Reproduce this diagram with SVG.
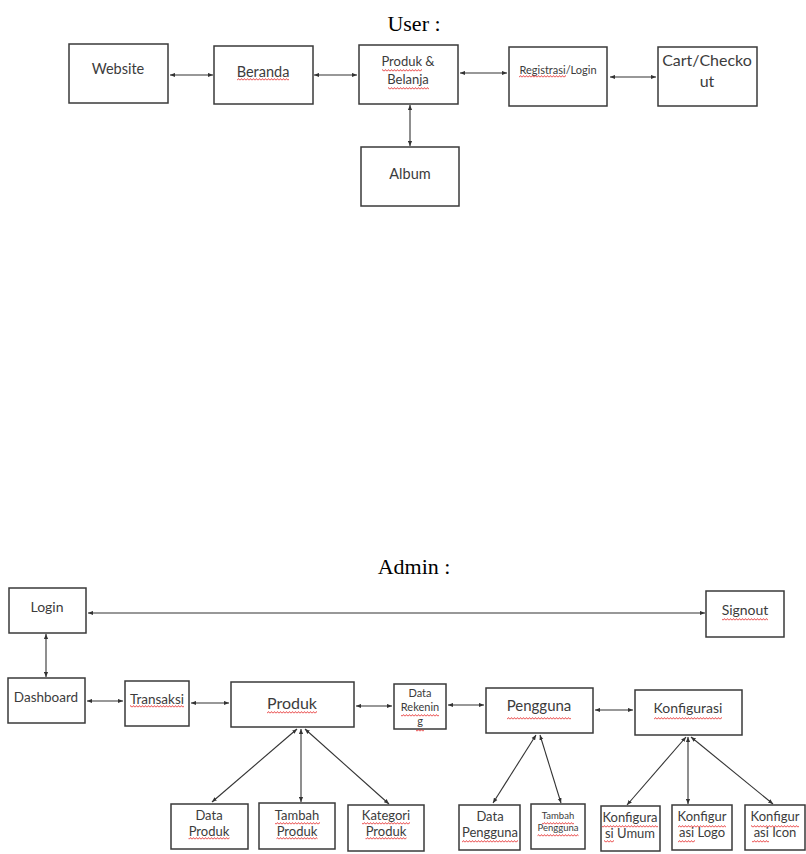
<svg xmlns="http://www.w3.org/2000/svg" width="806" height="854" viewBox="0 0 806 854">
<style>
.box{fill:#fff;stroke:#3a3a3a;stroke-width:1.5}
.t{font-family:Lato,"Open Sans",sans-serif;fill:#3c3c3c;text-anchor:middle}
.title{font-family:"Liberation Serif","Times New Roman",serif;font-size:22px;fill:#000;text-anchor:middle}
.c line{stroke:#333;stroke-width:1.1;marker-start:url(#ah);marker-end:url(#ah)}
.sq{fill:url(#wave)}
</style>
<defs>
<marker id="ah" viewBox="0 0 6 6" refX="6" refY="3" markerWidth="5" markerHeight="5" markerUnits="userSpaceOnUse" orient="auto-start-reverse"><path d="M0,0.5 L6,3 L0,5.5z" fill="#333"/></marker>
<pattern id="wave" width="3" height="3" patternUnits="userSpaceOnUse"><path d="M0,2.4 L1.5,0.6 L3,2.4" fill="none" stroke="#e31b1b" stroke-width="0.8"/></pattern>
</defs>
<rect width="806" height="854" fill="#fff"/>
<text class="title" x="414" y="31">User :</text>
<text class="title" x="414" y="574">Admin :</text>

<g id="website"><rect class="box" x="69" y="44" width="99" height="59"/><text class="t" x="118" y="74" font-size="14.5">Website</text></g>
<g id="beranda"><rect class="box" x="214" y="46" width="99" height="58"/><text class="t" x="263" y="77" font-size="14.5">Beranda</text><rect class="sq" x="237" y="78" width="52" height="3"/></g>
<g id="produk-belanja"><rect class="box" x="359" y="45" width="99" height="59"/><text class="t" x="408" y="66" font-size="13">Produk &amp;</text><text class="t" x="408" y="84" font-size="13">Belanja</text><rect class="sq" x="382" y="69" width="40" height="3"/><rect class="sq" x="388" y="87" width="41" height="3"/></g>
<g id="registrasi"><rect class="box" x="509" y="47" width="98" height="59"/><text class="t" x="558" y="74" font-size="11">Registrasi/Login</text><rect class="sq" x="519" y="75" width="47" height="3"/></g>
<g id="cart"><rect class="box" x="658" y="47" width="99" height="59"/><text class="t" x="707" y="66" font-size="16">Cart/Checko</text><text class="t" x="707" y="87" font-size="16">ut</text></g>
<g id="album"><rect class="box" x="361" y="147" width="98" height="59"/><text class="t" x="410" y="179" font-size="14.5">Album</text></g>

<g id="login"><rect class="box" x="9" y="588" width="77" height="45"/><text class="t" x="47" y="612" font-size="14">Login</text></g>
<g id="signout"><rect class="box" x="706" y="591" width="78" height="46"/><text class="t" x="745" y="615" font-size="14">Signout</text><rect class="sq" x="722" y="618" width="46" height="3"/></g>
<g id="dashboard"><rect class="box" x="8" y="678" width="77" height="45"/><text class="t" x="46" y="702" font-size="13.5">Dashboard</text></g>
<g id="transaksi"><rect class="box" x="125" y="681" width="64" height="45"/><text class="t" x="157" y="704" font-size="13.5">Transaksi</text><rect class="sq" x="130" y="705" width="54" height="3"/></g>
<g id="produk"><rect class="box" x="231" y="682" width="123" height="45"/><text class="t" x="292" y="709" font-size="16">Produk</text><rect class="sq" x="267" y="711" width="50" height="3"/></g>
<g id="data-rekening"><rect class="box" x="394" y="684" width="52" height="45"/><text class="t" x="420" y="697" font-size="11">Data</text><text class="t" x="420" y="711" font-size="11">Rekenin</text><text class="t" x="420" y="725" font-size="11">g</text><rect class="sq" x="401" y="714" width="38" height="3"/><rect class="sq" x="416" y="729" width="8" height="3"/></g>
<g id="pengguna"><rect class="box" x="486" y="688" width="107" height="45"/><text class="t" x="539" y="711" font-size="15">Pengguna</text><rect class="sq" x="507" y="717" width="64" height="3"/></g>
<g id="konfigurasi"><rect class="box" x="635" y="690" width="107" height="45"/><text class="t" x="688" y="713" font-size="14">Konfigurasi</text><rect class="sq" x="654" y="717" width="68" height="3"/></g>

<g id="data-produk"><rect class="box" x="171" y="804" width="77" height="45"/><text class="t" x="209" y="820" font-size="13">Data</text><text class="t" x="209" y="836" font-size="13">Produk</text><rect class="sq" x="188.5" y="837" width="41" height="3"/></g>
<g id="tambah-produk"><rect class="box" x="259" y="803" width="76" height="46"/><text class="t" x="297" y="820" font-size="13">Tambah</text><text class="t" x="297" y="836" font-size="13">Produk</text><rect class="sq" x="275" y="822" width="45" height="3"/><rect class="sq" x="276.5" y="837" width="41" height="3"/></g>
<g id="kategori-produk"><rect class="box" x="348" y="805" width="76" height="46"/><text class="t" x="386" y="820" font-size="13">Kategori</text><text class="t" x="386" y="836" font-size="13">Produk</text><rect class="sq" x="362" y="822" width="48" height="3"/><rect class="sq" x="365.5" y="837" width="41" height="3"/></g>
<g id="data-pengguna"><rect class="box" x="459" y="805" width="61" height="45"/><text class="t" x="490" y="821" font-size="13">Data</text><text class="t" x="490" y="837" font-size="13">Pengguna</text><rect class="sq" x="462" y="840" width="56" height="3"/></g>
<g id="tambah-pengguna"><rect class="box" x="531" y="804" width="54" height="45"/><text class="t" x="558" y="819" font-size="9.5">Tambah</text><text class="t" x="558" y="831" font-size="9.5">Pengguna</text><rect class="sq" x="542" y="822" width="32" height="3"/><rect class="sq" x="537.5" y="834" width="41" height="3"/></g>
<g id="konfigurasi-umum"><rect class="box" x="601" y="806" width="59" height="45"/><text class="t" x="630" y="822" font-size="13">Konfigura</text><text class="t" x="630" y="838" font-size="13">si Umum</text><rect class="sq" x="602" y="825" width="56" height="3"/><rect class="sq" x="604" y="840" width="10" height="3"/></g>
<g id="konfigurasi-logo"><rect class="box" x="672" y="805" width="60" height="45"/><text class="t" x="702" y="821" font-size="13">Konfigur</text><text class="t" x="702" y="837" font-size="13">asi Logo</text><rect class="sq" x="678" y="825" width="48" height="3"/><rect class="sq" x="678" y="840" width="17" height="3"/></g>
<g id="konfigurasi-icon"><rect class="box" x="745" y="805" width="60" height="45"/><text class="t" x="775" y="821" font-size="13">Konfigur</text><text class="t" x="775" y="837" font-size="13">asi Icon</text><rect class="sq" x="751" y="825" width="48" height="3"/><rect class="sq" x="752" y="840" width="17" height="3"/></g>

<g id="connectors" class="c">
<line x1="170" y1="75" x2="213" y2="75"/>
<line x1="314" y1="75" x2="357" y2="75"/>
<line x1="460" y1="73" x2="507" y2="73"/>
<line x1="610" y1="77" x2="656" y2="77"/>
<line x1="410" y1="105" x2="410" y2="146"/>
<line x1="88" y1="613" x2="705" y2="613"/>
<line x1="46" y1="634" x2="46" y2="677"/>
<line x1="87" y1="701" x2="123" y2="701"/>
<line x1="191" y1="703" x2="229" y2="703"/>
<line x1="356" y1="706" x2="392" y2="706"/>
<line x1="448" y1="705" x2="484" y2="705"/>
<line x1="595" y1="710" x2="633" y2="710"/>
<line x1="297" y1="729" x2="212" y2="802"/>
<line x1="301" y1="729" x2="301" y2="802"/>
<line x1="305" y1="729" x2="389" y2="804"/>
<line x1="536" y1="735" x2="493" y2="803"/>
<line x1="540" y1="735" x2="561" y2="803"/>
<line x1="686" y1="737" x2="627" y2="805"/>
<line x1="688" y1="737" x2="688" y2="804"/>
<line x1="691" y1="737" x2="773" y2="804"/>
</g>
</svg>
